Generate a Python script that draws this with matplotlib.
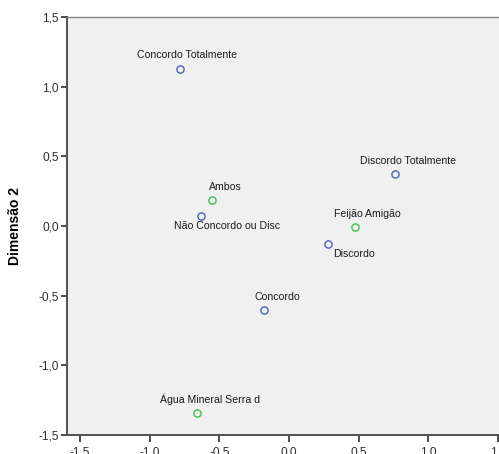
import matplotlib

matplotlib.use("Agg")
import matplotlib.pyplot as plt
from matplotlib.ticker import FuncFormatter

# Category points (dimension 1, dimension 2)
agreement_labels = [
    "Concordo Totalmente",
    "Não Concordo ou Disc",
    "Discordo Totalmente",
    "Discordo",
    "Concordo",
]
agreement_x = [-0.78, -0.63, 0.76, 0.28, -0.18]
agreement_y = [1.13, 0.07, 0.37, -0.13, -0.60]

brand_labels = ["Ambos", "Feijão Amigão", "Água Mineral Serra d"]
brand_x = [-0.55, 0.47, -0.66]
brand_y = [0.19, -0.01, -1.34]

tick_values = [-1.5, -1.0, -0.5, 0.0, 0.5, 1.0, 1.5]

# label offsets in pixels (text centre relative to the point)
ABOVE = (13, 13)
BELOW = (26, -10)
label_offsets = {
    "Concordo Totalmente": (7, 14),
    "Não Concordo ou Disc": BELOW,
    "Discordo": BELOW,
}

BLUE = "#4a62b8"
GREEN = "#3cbf4a"
BG = "#f0f0f0"
AXIS = "#505050"
FONT = "Liberation Sans"


def comma_decimal(value, _pos):
    return f"{value:.1f}".replace(".", ",")


def label_points(ax, labels, xs, ys):
    for label, x, y in zip(labels, xs, ys):
        dx, dy = label_offsets.get(label, ABOVE)
        ax.annotate(
            label,
            (x, y),
            xytext=(dx, dy),
            textcoords="offset pixels",
            ha="center",
            va="center",
            fontsize=7.6,
            family=FONT,
            color="#1a1a1a",
        )


fig = plt.figure(figsize=(4.99, 4.54), dpi=100)
ax = fig.add_axes([0.1343, 0.0419, 0.8918, 0.9207])
ax.set_facecolor(BG)

ax.plot(agreement_x, agreement_y, "o", ms=5.2, mfc="none", mec=BLUE, mew=1.0)
ax.plot(brand_x, brand_y, "o", ms=5.2, mfc="none", mec=GREEN, mew=1.0)
label_points(ax, agreement_labels, agreement_x, agreement_y)
label_points(ax, brand_labels, brand_x, brand_y)

ax.set_xlim(-1.593, 1.6)
ax.set_ylim(-1.5, 1.5)
ax.set_xticks(tick_values)
ax.set_yticks(tick_values)
ax.xaxis.set_major_formatter(FuncFormatter(comma_decimal))
ax.yaxis.set_major_formatter(FuncFormatter(comma_decimal))

for side in ("left", "bottom", "top"):
    ax.spines[side].set_color(AXIS)
    ax.spines[side].set_linewidth(1.4)
ax.spines["top"].set_color("#808080")
ax.spines["top"].set_linewidth(1.0)
ax.spines["right"].set_visible(False)

ax.tick_params(
    direction="out",
    length=4,
    width=1.2,
    color="#303030",
    labelsize=8.6,
    labelcolor="#303030",
    pad=2,
)
ax.tick_params(axis="x", length=5, pad=3.5)
for tick_label in ax.get_xticklabels() + ax.get_yticklabels():
    tick_label.set_family(FONT)

ax.set_ylabel("Dimensão 2", fontsize=10, fontweight="bold", family=FONT)
ax.yaxis.set_label_coords(-0.101, 0.5)

fig.savefig("out.png", dpi=100, facecolor="white")
